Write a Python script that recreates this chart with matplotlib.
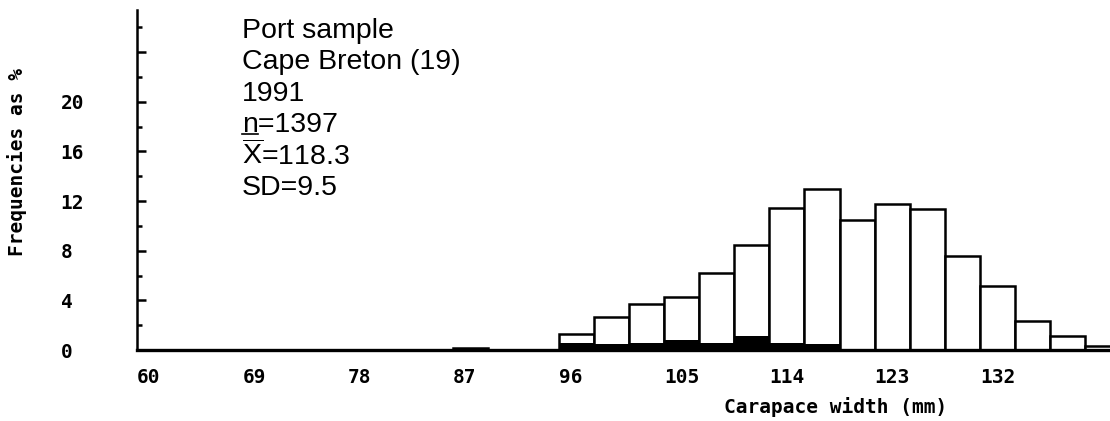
import matplotlib
matplotlib.use('Agg')
import matplotlib.pyplot as plt
import numpy as np

plt.rcParams['mathtext.fontset'] = 'custom'
plt.rcParams['mathtext.rm'] = 'Liberation Sans'
plt.rcParams['mathtext.it'] = 'Liberation Sans'

# carapace width classes (left edge, mm), 3 mm wide
bin_starts = [87, 90, 93, 96, 99, 102, 105, 108, 111, 114, 117, 120, 123, 126, 129, 132, 135, 138, 141]
# all crabs, % of sample
all_pct = [0.15, 0.0, 0.0, 1.3, 2.66, 3.7, 4.25, 6.2, 8.47, 11.43, 12.98, 10.5, 11.8, 11.35, 7.58, 5.12, 2.34, 1.1, 0.35]
# shaded part of each class
black_pct = [0.15, 0.0, 0.0, 0.6, 0.45, 0.55, 0.8, 0.6, 1.1, 0.55, 0.5, 0.0, 0.0, 0.0, 0.0, 0.0, 0.0, 0.0, 0.0]

x_ticks = [60, 69, 78, 87, 96, 105, 114, 123, 132]
y_ticks = [0, 4, 8, 12, 16, 20, 24]
y_ticklabels = ['0', '4', '8', '12', '16', '20', '']

info_lines = ['Port sample', 'Cape Breton (19)', '1991', 'n=1397',
              r'$\overline{\mathrm{X}}$=118.3', 'SD=9.5']

mono = {'family': 'DejaVu Sans Mono', 'weight': 'bold', 'size': 14}

fig = plt.figure(figsize=(11.1, 4.21), dpi=100)
ax = fig.add_axes([137 / 1110, 71 / 421, 973 / 1110, 340 / 421])

ax.bar(bin_starts, all_pct, width=3, align='edge', color='white',
       edgecolor='black', linewidth=1.8, zorder=2)
ax.bar(bin_starts, black_pct, width=3, align='edge', color='black',
       linewidth=0, zorder=3)

ax.set_xlim(60, 143.1)
ax.set_ylim(0, 27.4)

for side in ['top', 'right']:
    ax.spines[side].set_visible(False)
ax.spines['left'].set_linewidth(1.8)
ax.spines['bottom'].set_linewidth(2.4)
ax.spines['bottom'].set_zorder(4)

ax.set_xticks(x_ticks)
ax.set_xticklabels([str(v) for v in x_ticks], fontdict=mono, ha='left')
ax.tick_params(axis='x', length=0, pad=13)

ax.set_yticks(y_ticks)
ax.set_yticks(np.array(y_ticks) + 2, minor=True)
ax.set_yticklabels(y_ticklabels, fontdict=mono)
for lbl in ax.get_yticklabels():
    lbl.set_ha('left')
ax.tick_params(axis='y', which='major', direction='in', length=6.5, width=1.8, pad=55)
ax.tick_params(axis='y', which='minor', direction='in', length=3.5, width=1.8)

ax.set_xlabel('Carapace width (mm)', fontdict=mono, va='center')
ax.xaxis.set_label_coords(0.718, -0.168)
ax.set_ylabel('Frequencies as %', fontdict=mono, va='center')
ax.yaxis.set_label_coords(-0.123, 0.553)

# sample description, one line at a time
baselines = [38, 69.4, 100.8, 131.5, 165.0, 195]
for line, yb in zip(info_lines, baselines):
    ax.text(0.108, (350 - yb) / 340, line, transform=ax.transAxes,
            family='Liberation Sans', fontsize=20.5, va='baseline', ha='left')
# underline under the n
yu = (350 - 134) / 340
ax.plot([0.108, 0.108 + 16 / 973], [yu, yu], transform=ax.transAxes,
        color='black', linewidth=1.2, clip_on=False)

fig.savefig('out.png', dpi=100)
